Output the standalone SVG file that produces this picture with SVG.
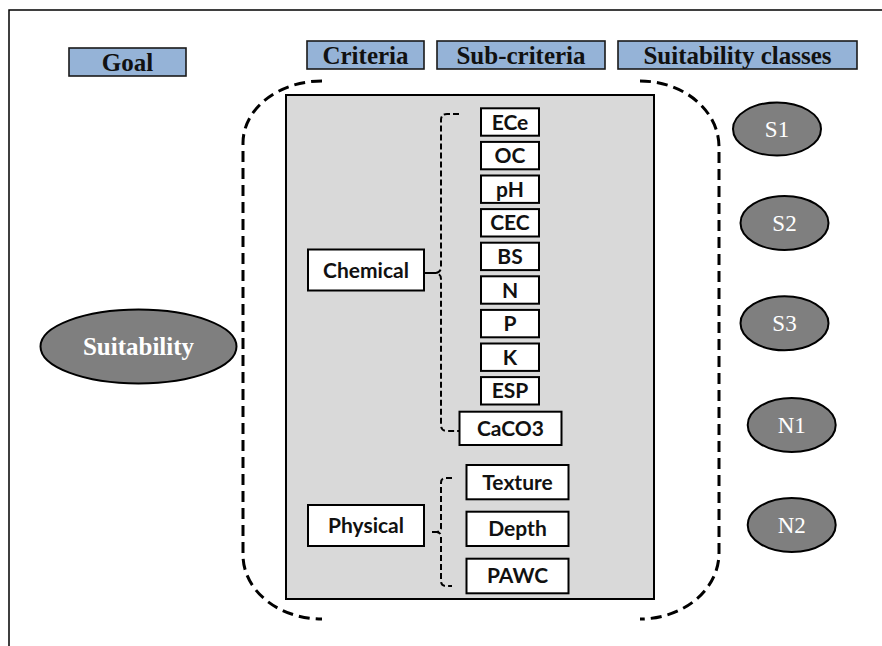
<svg xmlns="http://www.w3.org/2000/svg" width="882" height="646" viewBox="0 0 882 646">
<style>
.hdr{fill:#95b3d7;stroke:#1a1a1a;stroke-width:1.6}
.hdrt{font-family:"Liberation Serif",serif;font-weight:bold;font-size:25px;fill:#111;text-anchor:middle}
.ell{fill:#7f7f7f;stroke:#000;stroke-width:2}
.ellt{font-family:"Liberation Serif",serif;font-size:23px;fill:#fff;text-anchor:middle}
.box{fill:#fff;stroke:#000;stroke-width:2}
.bt{font-family:Lato,"Liberation Sans",sans-serif;font-weight:bold;font-size:21px;fill:#111;text-anchor:middle}
.big{fill:none;stroke:#000;stroke-width:3;stroke-dasharray:11 6}
.brace{fill:none;stroke:#000;stroke-width:2;stroke-dasharray:6 3}
</style>
<path d="M9,646 V10 H882" fill="none" stroke="#000" stroke-width="1.5"/>
<g id="headers">
  <g id="h-goal"><rect class="hdr" x="69" y="48" width="117" height="28"/><text class="hdrt" x="127.5" y="70.5">Goal</text></g>
  <g id="h-criteria"><rect class="hdr" x="307" y="41" width="117" height="28"/><text class="hdrt" x="365.5" y="64">Criteria</text></g>
  <g id="h-sub"><rect class="hdr" x="437" y="41" width="168" height="28"/><text class="hdrt" x="521" y="64">Sub-criteria</text></g>
  <g id="h-classes"><rect class="hdr" x="618" y="41" width="239" height="28"/><text class="hdrt" x="737.5" y="64">Suitability classes</text></g>
</g>
<g id="panel"><rect x="286" y="95" width="368" height="504" fill="#d9d9d9" stroke="#000" stroke-width="2"/></g>
<g id="connectors">
  <path class="big" d="M322,81 A79,62 0 0 0 243,143 V555 A79,64 0 0 0 322,619"/>
  <path class="big" d="M640,81 A79,66 0 0 1 719,147 V553 A79,66 0 0 1 640,619"/>
  <path class="brace" d="M459,114 H447 Q441,114 441,120 V267 Q441,272 436,273 Q441,274 441,279 V425 Q441,431 447,431 H459"/>
  <path d="M424,273 H436" stroke="#000" stroke-width="2"/>
  <path class="brace" d="M452,478 H446 Q441,478 441,483 V528 Q441,531 437,532 Q441,533 441,536 V581 Q441,586 446,586 H452"/>
  <path d="M432,532 H437" stroke="#000" stroke-width="2"/>
</g>
<g id="goal"><ellipse class="ell" cx="138.5" cy="346.5" rx="98" ry="37"/><text x="138.5" y="355" font-family="Liberation Serif,serif" font-weight="bold" font-size="25" fill="#fff" text-anchor="middle">Suitability</text></g>
<g id="chemical"><rect class="box" x="308" y="249.5" width="116" height="41"/><text class="bt" x="366" y="278">Chemical</text></g>
<g id="physical"><rect class="box" x="308" y="505" width="116" height="41"/><text class="bt" x="366" y="533">Physical</text></g>
<g id="ece"><rect class="box" x="481" y="108.3" width="58" height="27.4"/><text class="bt" x="510" y="129.5">ECe</text></g>
<g id="oc"><rect class="box" x="481" y="141.9" width="58" height="27.4"/><text class="bt" x="510" y="163.1">OC</text></g>
<g id="ph"><rect class="box" x="481" y="175.5" width="58" height="27.4"/><text class="bt" x="510" y="196.7">pH</text></g>
<g id="cec"><rect class="box" x="481" y="209.1" width="58" height="27.4"/><text class="bt" x="510" y="230.3">CEC</text></g>
<g id="bs"><rect class="box" x="481" y="242.7" width="58" height="27.4"/><text class="bt" x="510" y="263.9">BS</text></g>
<g id="n"><rect class="box" x="481" y="276.3" width="58" height="27.4"/><text class="bt" x="510" y="297.5">N</text></g>
<g id="p"><rect class="box" x="481" y="309.9" width="58" height="27.4"/><text class="bt" x="510" y="331.1">P</text></g>
<g id="k"><rect class="box" x="481" y="343.5" width="58" height="27.4"/><text class="bt" x="510" y="364.7">K</text></g>
<g id="esp"><rect class="box" x="481" y="377.1" width="58" height="27.4"/><text class="bt" x="510" y="398.3">ESP</text></g>
<g id="caco3"><rect class="box" x="459.5" y="411.7" width="102" height="33.3"/><text class="bt" x="510.5" y="435.5">CaCO3</text></g>
<g id="texture"><rect class="box" x="466.5" y="465" width="102" height="34.3"/><text class="bt" x="517.5" y="489.5">Texture</text></g>
<g id="depth"><rect class="box" x="466.5" y="511.7" width="102" height="34.3"/><text class="bt" x="517.5" y="536.2">Depth</text></g>
<g id="pawc"><rect class="box" x="466.5" y="558.7" width="102" height="34.6"/><text class="bt" x="517.5" y="583.2">PAWC</text></g>
<g id="s1"><ellipse class="ell" cx="777" cy="129" rx="44" ry="26.5"/><text class="ellt" x="777" y="137">S1</text></g>
<g id="s2"><ellipse class="ell" cx="784.5" cy="223" rx="44" ry="27"/><text class="ellt" x="784.5" y="231">S2</text></g>
<g id="s3"><ellipse class="ell" cx="784.5" cy="323.3" rx="44" ry="27"/><text class="ellt" x="784.5" y="331.3">S3</text></g>
<g id="n1"><ellipse class="ell" cx="791.7" cy="425" rx="44" ry="27"/><text class="ellt" x="791.7" y="433">N1</text></g>
<g id="n2"><ellipse class="ell" cx="791.7" cy="525" rx="44" ry="27"/><text class="ellt" x="791.7" y="533">N2</text></g>
</svg>
